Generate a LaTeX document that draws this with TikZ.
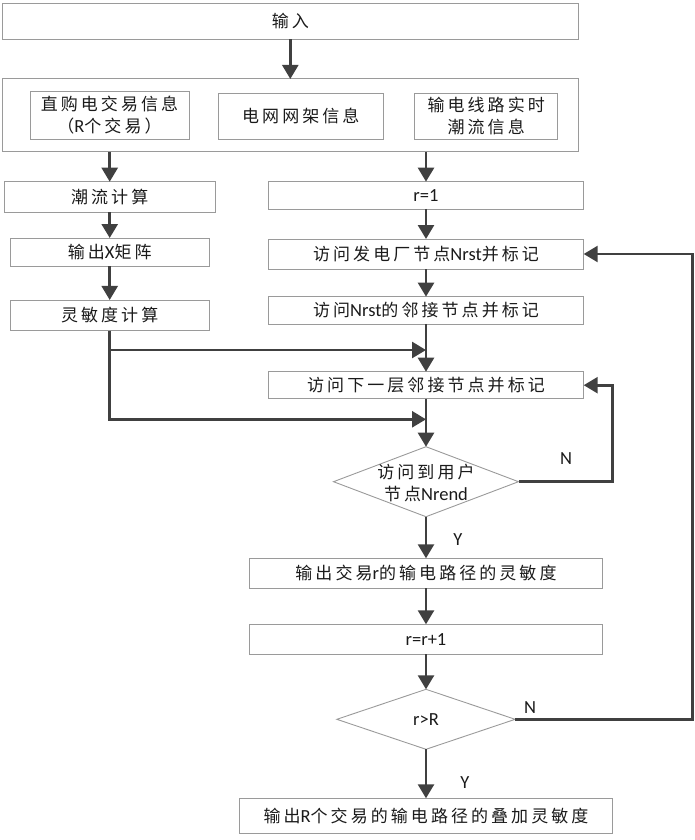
\documentclass[tikz,border=0pt]{standalone}
\usepackage{fontspec}
\setmainfont[LetterSpace=18]{Noto Sans CJK SC}
\newfontfamily\lat{Carlito}
\usetikzlibrary{arrows.meta,shapes.geometric}
\definecolor{boxgray}{HTML}{9A9A9A}
\definecolor{arrgray}{HTML}{404040}
\definecolor{txt}{HTML}{1A1A1A}
\newcommand{\fsz}{\fontsize{17}{22}\selectfont}
\newcommand{\la}[1]{{\lat\fontsize{18.5}{22}\selectfont #1}}
\begin{document}
\begin{tikzpicture}[x=1pt,y=-1pt,
  box/.style={draw=boxgray, line width=0.9pt, rectangle, inner sep=0pt, outer sep=0pt, text=txt, font=\fsz, align=center},
  dia/.style={draw=boxgray, line width=0.9pt, diamond, inner sep=0pt, outer sep=0pt},
  lbl/.style={text=txt, font=\fsz, inner sep=0pt, align=center},
  arr/.style={draw=arrgray, line width=2.6pt, -{Triangle[length=14pt,width=16pt]}},
  ln/.style={draw=arrgray, line width=2.6pt}]
\useasboundingbox (0,0) rectangle (694,840);
% top
\node[box, minimum width=576.7pt, minimum height=36pt] (top) at (290.3,21.3) {输入};
\node[box, minimum width=576.7pt, minimum height=72.7pt] (big) at (290.3,115.3) {};
\node[box, minimum width=159pt, minimum height=47.6pt] (b1) at (109.5,115.5) {直购电交易信息\\（\la{R}个交易）};
\node[box, minimum width=165.6pt, minimum height=46pt] (b2) at (300.8,116.3) {电网网架信息};
\node[box, minimum width=143pt, minimum height=46pt] (b3) at (486.2,116.3) {输电线路实时\\潮流信息};
% left column
\node[box, minimum width=210.6pt, minimum height=30.6pt] (flow) at (109.7,197) {潮流计算};
\node[box, minimum width=199.3pt, minimum height=28pt] (xmat) at (109.7,252) {输出\la{X}矩阵};
\node[box, minimum width=199.3pt, minimum height=30.7pt] (sens) at (109.7,315.3) {灵敏度计算};
% right column
\node[box, minimum width=315.4pt, minimum height=27.3pt] (r1) at (426,195.3) {\la{r=1}};
\node[box, minimum width=315.4pt, minimum height=30pt] (visit) at (426,254) {访问发电厂节点\la{Nrst}并标记};
\node[box, minimum width=315.4pt, minimum height=27.3pt] (nrst) at (426,310.3) {访问\la{Nrst}的邻接节点并标记};
\node[box, minimum width=315.4pt, minimum height=27pt] (next) at (426,385.2) {访问下一层邻接节点并标记};
\node[dia, minimum width=185pt, minimum height=70pt] (d1) at (426,481.7) {};
\node[lbl] (d1t) at (426,482.5) {访问到用户\\节点\la{Nrend}};
\node[box, minimum width=352.4pt, minimum height=30pt] (out) at (426,573.3) {输出交易\la{r}的输电路径的灵敏度};
\node[box, minimum width=352.4pt, minimum height=30pt] (rr) at (426,639.3) {\la{r=r+1}};
\node[dia, minimum width=178.3pt, minimum height=60pt] (d2) at (426,719.3) {};
\node[lbl] (d2t) at (426,719.3) {\la{r>R}};
\node[box, minimum width=373.4pt, minimum height=35pt] (final) at (426,815.8) {输出\la{R}个交易的输电路径的叠加灵敏度};
% labels
\node[lbl] (n1) at (566,458.3) {\la{N}};
\node[lbl] (y1) at (458,540) {\la{Y}};
\node[lbl] (n2) at (530,708) {\la{N}};
\node[lbl] (y2) at (465,783) {\la{Y}};
% coordinates
\coordinate (m1) at (426,350);
\coordinate (m2) at (426,419.3);
\coordinate (lp1) at (612.5,481.7);
\coordinate (lp2) at (692.5,719.3);
% arrows
\draw[arr] (top.south) -- (big.north);
\draw[arr] (flow.north |- big.south) -- (flow.north);
\draw[arr] (r1.north |- big.south) -- (r1.north);
\draw[arr] (flow.south) -- (flow.south -| xmat.north) -- (xmat.north);
\draw[arr] (xmat.south) -- (sens.north);
\draw[arr] (r1.south) -- (visit.north);
\draw[arr] (visit.south) -- (nrst.north);
\draw[arr] (nrst.south) -- (next.north);
\draw[arr] (sens.south) |- (m1);
\draw[arr] (sens.south) |- (m2);
\draw[arr] (next.south) -- (d1.north);
\draw[arr] (d1.east) -- (lp1) |- (next.east);
\draw[arr] (d1.south) -- (out.north);
\draw[arr] (out.south) -- (rr.north);
\draw[arr] (rr.south) -- (d2.north);
\draw[arr] (d2.east) -- (lp2) |- (visit.east);
\draw[arr] (d2.south) -- (final.north);
\end{tikzpicture}
\end{document}
